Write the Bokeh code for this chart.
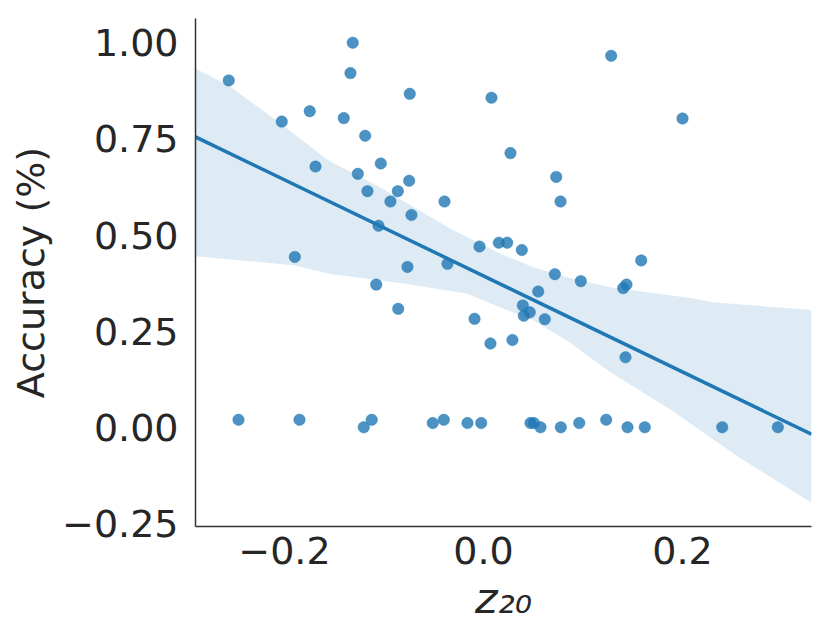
from bokeh.plotting import figure
from bokeh.models import Range1d, FixedTicker, CustomJSTickFormatter
from bokeh.embed import file_html
from bokeh.resources import INLINE

# z_20 values (x) and accuracy values (y)
z20 = [-0.256, -0.1314, -0.1337, -0.0741, 0.008, -0.2027, -0.1746, -0.1404, -0.1189, 0.0271,
       -0.1688, -0.1032, -0.1263, -0.0747, -0.1166, -0.0861, -0.0935, -0.0392, -0.0724, -0.1055,
       -0.004, 0.0154, 0.0238, -0.1896, -0.0764, -0.0362, 0.1283, 0.200, 0.0731, 0.0774,
       0.0385, 0.1585, -0.1078, -0.0857, -0.009, 0.007, 0.0291, 0.0717, 0.0978, 0.1404,
       0.1437, 0.055, 0.0395, 0.0465, 0.0405, 0.0616, 0.1427,
       -0.2462, -0.1849, -0.1203, -0.1123, -0.051, -0.0399, -0.0161, -0.0023, 0.0472,
       0.0506, 0.0573, 0.0777, 0.0962, 0.1233, 0.1447, 0.1621, 0.2399, 0.2958]
accuracy = [0.902, 1.000, 0.921, 0.867, 0.857, 0.795, 0.822, 0.804, 0.758, 0.713,
            0.678, 0.686, 0.659, 0.641, 0.614, 0.614, 0.587, 0.587, 0.552, 0.524,
            0.470, 0.480, 0.480, 0.443, 0.417, 0.425, 0.966, 0.803, 0.651, 0.587,
            0.461, 0.434, 0.371, 0.308, 0.282, 0.218, 0.227, 0.398, 0.380, 0.362,
            0.371, 0.353, 0.317, 0.299, 0.290, 0.281, 0.182,
            0.0195, 0.0195, 0.0, 0.0195, 0.011, 0.0195, 0.011, 0.011, 0.011,
            0.011, 0.0, 0.0, 0.011, 0.0195, 0.0, 0.0, 0.0, 0.0]

# regression line (end points) and its confidence band
fit_x = [-0.2894, 0.3296]
fit_y = [0.755, -0.018]
band_top_x = [-0.2894, -0.2563, -0.206, -0.1558, -0.1266, -0.1015, -0.0784, -0.0332, 0.0171,
              0.0503, 0.0841, 0.1276, 0.2131, 0.2298, 0.3296]
band_top_y = [0.933, 0.889, 0.794, 0.694, 0.655, 0.620, 0.585, 0.516, 0.451,
              0.416, 0.390, 0.364, 0.334, 0.325, 0.305]
band_bot_x = [-0.2894, -0.1889, -0.1555, -0.0784, -0.0164, 0.0506, 0.0841, 0.1276, 0.1896,
              0.2566, 0.3296]
band_bot_y = [0.445, 0.421, 0.399, 0.373, 0.347, 0.277, 0.225, 0.143, 0.043,
              -0.078, -0.196]

x_ticks = [-0.2, 0.0, 0.2]
y_ticks = [-0.25, 0.0, 0.25, 0.5, 0.75, 1.0]
x_label = "z\u2082\u2080"   # z with subscript 20
y_label = "Accuracy (%)"

XMIN, XMAX = -0.2894, 0.3296
YMIN, YMAX = -0.258, 1.063

BLUE = "#1f77b4"
TXT = "#262626"
FONT = "DejaVu Sans"

p = figure(width=830, height=639, output_backend="svg", toolbar_location=None,
           x_range=Range1d(XMIN, XMAX), y_range=Range1d(YMIN, YMAX),
           min_border_left=195, min_border_right=19, min_border_top=18, min_border_bottom=113)
p.outline_line_color = None
p.xgrid.visible = False
p.ygrid.visible = False
p.background_fill_color = "white"
p.border_fill_color = "white"

band_xs = band_top_x + band_bot_x[::-1]
band_ys = band_top_y + band_bot_y[::-1]
p.patch(band_xs, band_ys, fill_color=BLUE, fill_alpha=0.15, line_color=None)
p.scatter(z20, accuracy, size=11.5, fill_color=BLUE, fill_alpha=0.8,
          line_color=BLUE, line_alpha=0.8, line_width=0.5)
p.line(fit_x, fit_y, line_color=BLUE, line_width=3.5)

for ax in (p.xaxis[0], p.yaxis[0]):
    ax.axis_line_color = "#333333"
    ax.axis_line_width = 1.5
    ax.major_tick_line_color = None
    ax.minor_tick_line_color = None
    ax.major_tick_out = 0
    ax.major_tick_in = 0
    ax.major_label_text_font = FONT
    ax.major_label_text_font_size = "38px"
    ax.major_label_text_color = TXT
    ax.axis_label_text_font = FONT
    ax.axis_label_text_color = TXT

p.xaxis.ticker = FixedTicker(ticks=x_ticks)
p.yaxis.ticker = FixedTicker(ticks=y_ticks)
p.xaxis.formatter = CustomJSTickFormatter(code="return tick.toFixed(1).replace('-', '\u2212');")
p.yaxis.formatter = CustomJSTickFormatter(code="return tick.toFixed(2).replace('-', '\u2212');")
p.xaxis.major_label_standoff = 10
p.yaxis.major_label_standoff = 17

p.yaxis.axis_label = y_label
p.yaxis.axis_label_text_font_size = "38px"
p.yaxis.axis_label_text_font_style = "normal"
p.yaxis.axis_label_standoff = 6

p.xaxis.axis_label = x_label
p.xaxis.axis_label_text_font_size = "43px"
p.xaxis.axis_label_text_font_style = "italic"
p.xaxis.axis_label_standoff = 6

open("out.html", "w").write(file_html(p, INLINE))
